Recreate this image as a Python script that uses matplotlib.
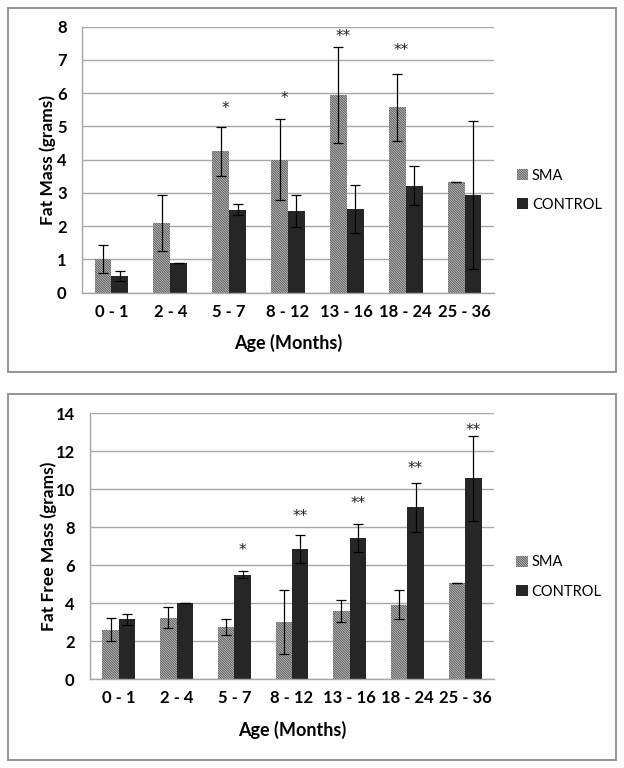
import numpy as np
import matplotlib
matplotlib.use('Agg')
import matplotlib.pyplot as plt
from matplotlib.patches import Rectangle

plt.rcParams['font.family'] = ['Lato', 'DejaVu Sans']
plt.rcParams['hatch.linewidth'] = 0.8

# ---------- Data ------------------------------------------------------------------------------------------------------

ages = ['0 - 1', '2 - 4', '5 - 7', '8 - 12', '13 - 16', '18 - 24', '25 - 36']

# Fat mass (grams)
fm_sma = [1.0, 2.1, 4.25, 4.0, 5.95, 5.58, 3.32]
fm_sma_err = [0.42, 0.85, 0.74, 1.21, 1.45, 1.01, 0.0]
fm_ctrl = [0.5, 0.9, 2.5, 2.45, 2.52, 3.22, 2.93]
fm_ctrl_err = [0.15, 0.0, 0.17, 0.48, 0.72, 0.58, 2.23]
fm_stars = ['', '', '*', '*', '**', '**', '']
fm_star_y = [0, 0, 5.55, 5.85, 7.72, 7.27, 0]

# Fat free mass (grams)
ffm_sma = [2.6, 3.25, 2.75, 3.02, 3.6, 3.93, 5.07]
ffm_sma_err = [0.61, 0.57, 0.43, 1.70, 0.56, 0.77, 0.0]
ffm_ctrl = [3.15, 4.0, 5.5, 6.87, 7.42, 9.05, 10.57]
ffm_ctrl_err = [0.28, 0.0, 0.19, 0.73, 0.74, 1.30, 2.22]
ffm_stars = ['', '', '*', '**', '**', '**', '**']
ffm_star_y = [0, 0, 6.8, 8.56, 9.23, 11.1, 13.1]

# ---------- Style -----------------------------------------------------------------------------------------------------

SMA_FACE = '#e2e2e2'
SMA_HATCH = '#5e5e5e'
CTRL_COLOR = '#262626'
GRID = '#a8a8a8'
BOX = '#8c8c8c'
W = 1 / 3.5                              # Excel gap width 150 %

fig = plt.figure(figsize=(6.24, 7.68), dpi=100)

# Outer frames around each chart
for y0, h in [(1 - 372 / 768, 364 / 768), (1 - 760 / 768, 366 / 768)]:
    fig.add_artist(Rectangle((8 / 624, y0), 608 / 624, h, transform=fig.transFigure,
                             fill=False, edgecolor=BOX, linewidth=1.3))


def draw_panel(ax, sma, sma_err, ctrl, ctrl_err, stars, star_y, ylabel, ymax, ystep, star_dx, ylab_x):
    x = np.arange(len(ages))
    ekw = dict(ecolor='black', elinewidth=0.9, capsize=3.3, capthick=0.9)
    ax.bar(x - W / 2, sma, W, yerr=sma_err, color=SMA_FACE, edgecolor=SMA_HATCH, linewidth=0,
           hatch='\\' * 14, error_kw=ekw, label='SMA', zorder=2)
    ax.bar(x + W / 2, ctrl, W, yerr=ctrl_err, color=CTRL_COLOR, linewidth=0,
           error_kw=ekw, label='CONTROL', zorder=2)
    for i, s in enumerate(stars):
        if s:
            ax.text(x[i] + star_dx, star_y[i], s, ha='center', va='center', fontsize=11,
                    family='DejaVu Sans', color='#222222')

    ax.set_xlim(-0.5, len(ages) - 0.5)
    ax.set_ylim(0, ymax)
    ax.set_yticks(np.arange(0, ymax + 0.01, ystep))
    ax.set_xticks(x)
    ax.set_xticklabels(ages)
    ax.yaxis.grid(True, color=GRID, linewidth=1)
    ax.set_axisbelow(True)
    for sp in ['top', 'right']:
        ax.spines[sp].set_visible(False)
    for sp in ['left', 'bottom']:
        ax.spines[sp].set_color(GRID)
        ax.spines[sp].set_linewidth(1)
    ax.tick_params(axis='both', length=0, labelsize=12)
    ax.tick_params(axis='x', pad=8)
    ax.tick_params(axis='y', pad=11)
    for lab in ax.get_xticklabels() + ax.get_yticklabels():
        lab.set_fontweight('bold')

    ax.set_ylabel(ylabel, fontsize=12.5, fontweight='bold')
    ax.yaxis.set_label_coords(ylab_x, 0.5)
    ax.set_xlabel('Age (Months)', fontsize=13, fontweight='bold')
    ax.xaxis.set_label_coords(0.5, -0.155)

    ax.legend(loc='center left', bbox_to_anchor=(1.055, 0.385), frameon=False, fontsize=10.5,
              handlelength=0.8, handleheight=0.8, handletextpad=0.25, labelspacing=1.05,
              borderpad=0, borderaxespad=0)


# ---------- Fat mass --------------------------------------------------------------------------------------------------
ax1 = fig.add_axes([82 / 624, 1 - 292.7 / 768, 412 / 624, 266 / 768])
draw_panel(ax1, fm_sma, fm_sma_err, fm_ctrl, fm_ctrl_err, fm_stars, fm_star_y,
           'Fat Mass (grams)', 8, 1, -0.07, -0.062)

# ---------- Fat free mass ---------------------------------------------------------------------------------------------
ax2 = fig.add_axes([90 / 624, 1 - 679.3 / 768, 404 / 624, 266 / 768])
draw_panel(ax2, ffm_sma, ffm_sma_err, ffm_ctrl, ffm_ctrl_err, ffm_stars, ffm_star_y,
           'Fat Free Mass (grams)', 14, 2, W / 2, -0.082)

fig.savefig('out.png', dpi=100)
